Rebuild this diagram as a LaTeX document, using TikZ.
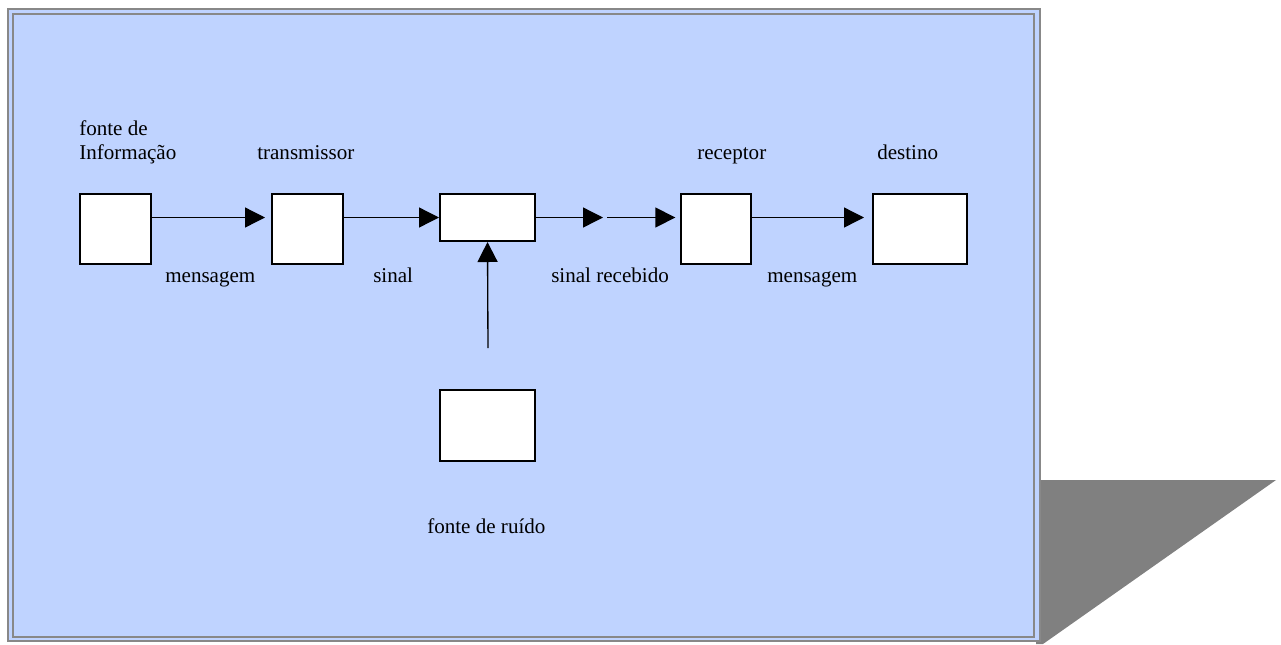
\documentclass[tikz,border=0pt]{standalone}
\usepackage{fontspec}
\setmainfont{Liberation Serif}
\usetikzlibrary{arrows.meta,calc}
\definecolor{panel}{RGB}{191,211,255}
\definecolor{framegray}{RGB}{136,136,136}
\definecolor{shadowgray}{RGB}{128,128,128}
\begin{document}
\begin{tikzpicture}[x=0.75pt,y=-0.75pt,
  blockbox/.style={draw=black,fill=white,line width=1.5pt,inner sep=0pt},
  lbl/.style={anchor=base west,inner sep=0pt,font=\fontsize{15.8}{18}\selectfont},
  flow/.style={line width=1pt,-{Triangle[length=15pt,width=15pt]}}]
\useasboundingbox (0,0) rectangle (1281,644);
% shadow
\fill[shadowgray] (1036,480) -- (1276,480) -- (1043,644) -- (1036,644) -- cycle;
% panel
\draw[framegray,fill=panel,line width=2pt] (8,9) rectangle (1040,641);
\draw[framegray,line width=2pt] (13,14) rectangle (1034,637);
% blocks
\node[blockbox,minimum width=53.25pt,minimum height=52.5pt] (src) at (115.5,229) {};
\node[blockbox,minimum width=53.25pt,minimum height=52.5pt] (tx) at (307.5,229) {};
\node[blockbox,minimum width=71.25pt,minimum height=35.25pt] (ch) at (487.5,217.5) {};
\node[blockbox,minimum width=52.5pt,minimum height=52.5pt] (rx) at (716,229) {};
\node[blockbox,minimum width=70.5pt,minimum height=52.5pt] (dst) at (920,229) {};
\node[blockbox,minimum width=71.25pt,minimum height=53.25pt] (noise) at (487.5,425.5) {};
% labels
\node[lbl] (lsrc1) at (79,135) {fonte de};
\node[lbl] (lsrc2) at (79,159) {Informação};
\node[lbl] (ltx) at (257,159) {transmissor};
\node[lbl] (lrx) at (697,159) {receptor};
\node[lbl] (ldst) at (877,159) {destino};
\node[lbl] (lm1) at (165,282) {mensagem};
\node[lbl] (ls) at (373,282) {sinal};
\node[lbl] (lsr) at (551,282) {sinal recebido};
\node[lbl] (lm2) at (767,282) {mensagem};
\node[lbl] (lnoise) at (427,533) {fonte de ruído};
% connectors
\coordinate (c1) at (603,217.5);
\coordinate (c2) at (607,217.5);
\coordinate (n0) at (488,348);
\draw[flow,shorten >=4.5pt] (src.east |- ch.west) -- (tx.west |- ch.west);
\draw[flow] (tx.east |- ch.west) -- (ch.west);
\draw[flow] (ch.east) -- (c1);
\draw[flow,shorten >=3.5pt] (c2) -- (rx.west |- ch.west);
\draw[flow,shorten >=6pt] (rx.east |- ch.west) -- (dst.west |- ch.west);
\draw[flow] (n0) -- (ch.south);
\end{tikzpicture}
\end{document}
